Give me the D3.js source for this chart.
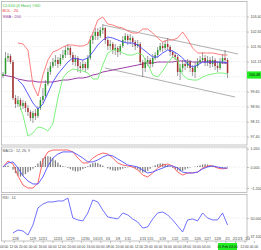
<!DOCTYPE html>
<html>
<head>
<meta charset="utf-8">
<script src="https://cdn.jsdelivr.net/npm/d3@7"></script>
<style>
  body { margin: 0; background: #fff; }
  text { font-family: "Liberation Sans", Arial, sans-serif; }
</style>
</head>
<body>
<div id="chart"></div>
<script>
// ---- candles (one per bar) ----
const candleOpen = [100.43, 100.53, 101.33, 101.43, 101.13, 99.33, 99.03, 99.23, 98.93, 99.08,
  98.83, 98.63, 98.33, 98.58, 98.43, 98.83, 99.23, 99.43, 100.03, 100.63,
  100.93, 101.13, 101.23, 101.03, 101.33, 101.48, 101.73, 101.83, 101.48, 101.13,
  101.33, 100.93, 100.83, 101.03, 100.83, 101.33, 102.23, 102.43, 102.63, 102.43,
  102.73, 102.83, 102.23, 101.93, 102.03, 101.73, 101.83, 101.63, 101.93, 102.23,
  102.43, 102.23, 102.33, 102.13, 101.93, 102.03, 101.13, 100.83, 101.13, 101.23,
  101.03, 101.33, 101.48, 101.73, 101.93, 101.83, 102.03, 101.88, 101.63, 101.48,
  101.38, 100.63, 100.83, 101.03, 100.93, 101.13, 100.83, 100.63, 100.93, 101.13,
  101.23, 101.33, 101.13, 101.23, 101.03, 101.23, 100.93, 100.83, 101.13, 101.33,
  101.23];
const candleHigh = [100.63, 101.63, 101.58, 101.53, 101.23, 99.48, 99.43, 99.33, 99.23, 99.18,
  98.98, 98.73, 98.68, 98.78, 98.93, 99.38, 99.83, 100.23, 100.83, 101.13,
  101.33, 101.48, 101.38, 101.53, 101.73, 101.93, 102.03, 101.93, 101.63, 101.48,
  101.43, 101.13, 101.23, 101.13, 101.48, 102.43, 102.63, 102.83, 102.83, 102.88,
  103.03, 102.88, 102.33, 102.23, 102.13, 102.03, 101.93, 102.03, 102.43, 102.58,
  102.53, 102.53, 102.43, 102.23, 102.23, 102.13, 101.23, 101.33, 101.43, 101.33,
  101.53, 101.63, 101.88, 102.08, 102.13, 102.23, 102.33, 101.98, 101.73, 101.63,
  101.48, 101.03, 101.23, 101.23, 101.28, 101.23, 100.98, 101.13, 101.33, 101.43,
  101.63, 101.48, 101.43, 101.38, 101.43, 101.33, 101.13, 101.33, 101.53, 101.73,
  101.33];
const candleLow = [100.33, 100.48, 101.13, 101.03, 99.23, 98.83, 98.88, 98.73, 98.78, 98.63,
  98.43, 98.18, 98.08, 98.23, 98.33, 98.73, 99.08, 99.33, 99.93, 100.48,
  100.83, 100.93, 100.83, 100.93, 101.23, 101.33, 101.48, 101.33, 100.98, 100.93,
  100.63, 100.58, 100.73, 100.63, 100.73, 101.23, 102.03, 102.23, 102.23, 102.33,
  102.53, 102.03, 101.73, 101.73, 101.53, 101.48, 101.38, 101.48, 101.83, 102.13,
  101.98, 102.03, 101.88, 101.73, 101.83, 100.98, 100.38, 100.63, 100.93, 100.83,
  100.88, 101.23, 101.33, 101.63, 101.63, 101.73, 101.73, 101.43, 101.33, 101.23,
  100.43, 100.23, 100.63, 100.73, 100.83, 100.63, 100.43, 100.33, 100.83, 101.03,
  101.13, 100.93, 100.93, 100.83, 100.88, 100.73, 100.63, 100.73, 101.03, 101.03,
  100.33];
const candleClose = [100.53, 101.33, 101.43, 101.13, 99.33, 99.03, 99.23, 98.93, 99.08, 98.83,
  98.63, 98.33, 98.58, 98.43, 98.83, 99.23, 99.43, 100.03, 100.63, 100.93,
  101.13, 101.23, 101.03, 101.33, 101.48, 101.73, 101.83, 101.48, 101.13, 101.33,
  100.93, 100.83, 101.03, 100.83, 101.33, 102.23, 102.43, 102.63, 102.43, 102.73,
  102.83, 102.23, 101.93, 102.03, 101.73, 101.83, 101.63, 101.93, 102.23, 102.43,
  102.23, 102.33, 102.13, 101.93, 102.03, 101.13, 100.83, 101.13, 101.23, 101.03,
  101.33, 101.48, 101.73, 101.93, 101.83, 102.03, 101.88, 101.63, 101.48, 101.38,
  100.63, 100.83, 101.03, 100.93, 101.13, 100.83, 100.63, 100.93, 101.13, 101.23,
  101.33, 101.13, 101.23, 101.03, 101.23, 100.93, 100.83, 101.13, 101.33, 101.23,
  100.58];

// ---- indicator lines, read every second bar ----
const lineIdx = [0, 2, 4, 6, 8, 10, 12, 14, 16, 18, 20, 22, 24, 26, 28, 30, 32, 34, 36, 38,
  40, 42, 44, 46, 48, 50, 52, 54, 56, 58, 60, 62, 64, 66, 68, 70, 72, 74, 76, 78,
  80, 82, 84, 86, 88, 90];
const bbUpper = [null, null, null, 102.08, 102.03, 101.73, 99.98, 99.43, 100.48, 101.23,
  101.63, 101.73, 101.88, 101.98, 101.98, 101.93, 101.93, 102.03, 102.58, 103.23,
  103.38, 103.03, 102.98, 102.88, 102.83, 102.68, 102.58, 102.58, 102.78, 102.78,
  102.58, 102.33, 102.13, 102.23, 102.23, 102.33, 102.63, 102.28, 101.83, 101.58,
  101.58, 101.58, 101.58, 101.53, 101.48, 101.48];
const bbMiddle = [null, null, null, 100.23, 99.98, 99.53, 99.08, 98.78, 99.03, 99.58,
  100.13, 100.53, 100.83, 101.13, 101.33, 101.28, 101.23, 101.33, 101.63, 101.98,
  102.23, 102.38, 102.33, 102.23, 102.13, 102.08, 102.08, 101.98, 101.78, 101.58,
  101.38, 101.38, 101.58, 101.73, 101.68, 101.53, 101.33, 101.03, 100.88, 100.98,
  101.13, 101.13, 101.13, 101.13, 101.13, 101.08];
const bbLower = [null, null, null, 99.23, 98.48, 97.43, 97.58, 97.88, 97.83, 97.68,
  98.03, 99.33, 100.33, 100.63, 100.78, 100.73, 100.68, 100.58, 100.28, 100.28,
  100.98, 101.58, 101.73, 101.73, 101.58, 101.48, 101.48, 101.58, 101.48, 101.03,
  100.48, 100.38, 100.68, 101.08, 101.38, 101.23, 100.48, 100.28, 100.23, 100.23,
  100.38, 100.48, 100.53, 100.58, 100.58, 100.53];
const sma200 = [100.48, 100.43, 100.38, 100.28, 100.23, 100.18, 100.18, 100.13, 100.13, 100.13,
  100.13, 100.18, 100.23, 100.23, 100.28, 100.33, 100.33, 100.38, 100.48, 100.53,
  100.63, 100.68, 100.73, 100.78, 100.83, 100.88, 100.93, 100.98, 101.03, 101.08,
  101.08, 101.13, 101.13, 101.13, 101.13, 101.18, 101.18, 101.18, 101.13, 101.13,
  101.13, 101.13, 101.13, 101.13, 101.08, 101.08];
const macdLine = [0, 0.34, 0.17, -0.51, -1.03, -1.20, -1.20, -0.91, 0.40, 0.86,
  0.97, 0.97, 0.97, 0.97, 0.86, 0.51, 0.23, 0.23, 0.51, 0.69,
  0.80, 0.74, 0.51, 0.23, 0.11, 0.06, 0, -0.17, -0.46, -0.57,
  -0.34, -0.06, 0.11, 0.17, 0.06, -0.29, -0.46, -0.34, -0.34, -0.29,
  -0.06, 0.06, 0.06, -0.06, -0.11, -0.06];
const signalLine = [0, 0.23, 0.29, -0.06, -0.51, -0.80, -0.97, -0.97, -0.57, 0.06,
  0.51, 0.74, 0.86, 0.86, 0.86, 0.69, 0.51, 0.29, 0.29, 0.40,
  0.57, 0.69, 0.63, 0.46, 0.29, 0.11, 0.06, 0, -0.17, -0.34,
  -0.29, -0.17, -0.06, 0.06, 0.06, -0.06, -0.29, -0.34, -0.34, -0.29,
  -0.11, 0, 0.06, 0, -0.06, -0.06];
const rsi14 = [null, null, 39.3, 41.4, 40.7, 37.8, 45.0, 57.2, 60.0, 61.5,
  61.5, 62.2, 62.2, 64.3, 50.0, 48.6, 47.9, 53.6, 62.9, 61.5,
  55.7, 50.7, 50.0, 49.3, 53.6, 52.2, 49.3, 47.1, 42.8, 43.6,
  49.3, 53.6, 54.3, 52.2, 48.6, 44.3, 40.0, 48.6, 49.3, 47.9,
  53.6, 50.0, 48.6, 48.6, 53.6, 45.0];
// histogram, one per bar
const macdHist = [0, 0.05, 0.08, 0, -0.15, -0.35, -0.5, -0.55, -0.5, -0.4,
  -0.3, -0.2, -0.1, 0.05, 0.2, 0.35, 0.5, 0.6, 0.62, 0.58,
  0.5, 0.38, 0.25, 0.12, 0.05, 0.02, -0.05, -0.12, -0.2, -0.25,
  -0.25, -0.2, -0.12, -0.05, 0.05, 0.15, 0.22, 0.25, 0.22, 0.15,
  0.08, 0, -0.08, -0.15, -0.2, -0.22, -0.2, -0.15, -0.1, -0.05,
  -0.02, 0, -0.03, -0.08, -0.15, -0.25, -0.32, -0.3, -0.22, -0.1,
  0.02, 0.1, 0.16, 0.2, 0.2, 0.16, 0.1, 0.03, -0.05, -0.12,
  -0.2, -0.25, -0.22, -0.15, -0.08, -0.03, 0, 0.02, 0.05, 0.1,
  0.14, 0.16, 0.14, 0.1, 0.06, 0.02, -0.02, -0.05, -0.05, -0.03,
  0.02];

// channel lines: [bar, price] end points
const channelUpper = [[40.1, 102.98], [94.2, 101.53]];
const channelLower = [[40.9, 100.83], [93.0, 99.38]];

// axes
const priceTicks = [97.40, 98.15, 98.90, 99.65, 100.40, 101.15, 101.90, 102.65, 103.40];
const macdTicks = [1.05, 0, -1.2];
const rsiTicks = [50, 37.1];
const lastPrice = 100.48;

const dateIdx = [5, 12, 16, 22, 27, 33, 37, 39, 42, 46, 50, 56, 59, 64, 69, 73, 78, 82, 86, 90, 93, 95, 98];
const dateLabels = ["12/8", "12/9", "12/21", "12/23", "12/29", "12/30", "1/4", "1/5", "1/6", "1/8",
  "1/11", "1/13", "1/15", "1/19", "1/22", "1/25", "1/26", "1/27", "1/28", "2/1", "2/2", "2/3", "2/4"];
const timeIdx = [0.4, 4.3, 8.1, 12, 15.9, 19.8, 23.6, 27.5, 31.3, 35.2, 39, 42.9, 46.8, 50.6,
  54.5, 58.3, 62.2, 66, 69.9, 73.7, 77.6, 81.4, 85.2, 89.1, 93, 96.8, 100.6];
const timeLabels = ["04:00", "12:00", "20:00", "00:00", "16:00", "00:00", "12:00", "20:00", "04:00",
  "16:00", "00:00", "08:00", "20:00", "04:00", "12:00", "20:00", "00:00", "16:00", "00:00", "08:00",
  "16:00", "04:00", "12:00", "20:00", "04:00", "12:00", "00:00"];
const cursorIdx = 90;
const cursorLabel = "01-Feb 04:00";

// ---- drawing ----
const W = 261, H = 250;
const left = 1.5, right = 247;
const mainP = { top: 1.5, bottom: 145 };
const macdP = { top: 147, bottom: 192.5 };
const rsiP = { top: 194.5, bottom: 241 };

const svg = d3.select("#chart").append("svg")
  .attr("width", W).attr("height", H);
svg.append("rect").attr("width", W).attr("height", H).attr("fill", "#fff");

const x = d3.scaleLinear().domain([0, 97]).range([3, 245]);
const y = d3.scaleLinear().domain([97.40, 103.40]).range([136.6, 16.6]);
const yM = d3.scaleLinear().domain([-1.2, 1.05]).range([188, 148.6]);
const yR = d3.scaleLinear().domain([37.1, 50]).range([236, 218]);

const defs = svg.append("defs");
function panel(p, id) {
  defs.append("clipPath").attr("id", id).append("rect")
    .attr("x", left).attr("y", p.top).attr("width", right - left).attr("height", p.bottom - p.top);
  svg.append("rect")
    .attr("x", left).attr("y", p.top).attr("width", right - left).attr("height", p.bottom - p.top)
    .attr("fill", "none").attr("stroke", "#a8a8a8").attr("stroke-width", 0.7);
  return svg.append("g").attr("clip-path", `url(#${id})`);
}
const gMain = panel(mainP, "clipMain");
const gMacd = panel(macdP, "clipMacd");
const gRsi = panel(rsiP, "clipRsi");

function hgrid(g, scale, ticks) {
  g.selectAll(null).data(ticks).join("line")
    .attr("x1", left).attr("x2", right)
    .attr("y1", d => scale(d)).attr("y2", d => scale(d))
    .attr("stroke", "#cfcfcf").attr("stroke-width", 0.5).attr("stroke-dasharray", "1,1.5");
}
hgrid(gMain, y, priceTicks);
hgrid(gMacd, yM, macdTicks);
hgrid(gRsi, yR, [50]);

function axisRight(scale, ticks, fmt) {
  const a = svg.append("g").attr("transform", `translate(${right},0)`)
    .call(d3.axisRight(scale).tickValues(ticks).tickSize(2).tickPadding(1.5).tickFormat(fmt));
  a.select(".domain").remove();
  a.selectAll("line").attr("stroke", "#888").attr("stroke-width", 0.5);
  a.selectAll("text").attr("font-size", 3.6).attr("fill", "#444");
}
// the tick hidden behind the price tag is left out
axisRight(y, priceTicks.filter(t => Math.abs(y(t) - y(lastPrice)) > 5), d => d.toFixed(2));
axisRight(yM, macdTicks, d3.format(".3f"));
axisRight(yR, rsiTicks, d3.format(".3f"));

// channel
[channelUpper, channelLower].forEach(c => {
  gMain.append("line")
    .attr("x1", x(c[0][0])).attr("y1", y(c[0][1]))
    .attr("x2", x(c[1][0])).attr("y2", y(c[1][1]))
    .attr("stroke", "#9a9a9a").attr("stroke-width", 0.8);
});

function drawLine(g, vals, scale, color, w) {
  const pts = lineIdx.map((d, i) => [d, vals[i]]);
  g.append("path").datum(pts)
    .attr("fill", "none").attr("stroke", color).attr("stroke-width", w)
    .attr("d", d3.line().defined(d => d[1] != null).x(d => x(d[0])).y(d => scale(d[1])));
}
drawLine(gMain, sma200, y, "#9b3fa5", 1);

// candles
const bars = d3.range(candleClose.length);
gMain.selectAll(".wick").data(bars).join("line")
  .attr("x1", i => x(i)).attr("x2", i => x(i))
  .attr("y1", i => y(candleHigh[i])).attr("y2", i => y(candleLow[i]))
  .attr("stroke", "#3a3a3a").attr("stroke-width", 0.5);
gMain.selectAll(".body").data(bars).join("rect")
  .attr("x", i => x(i) - 0.75).attr("width", 1.5)
  .attr("y", i => y(Math.max(candleOpen[i], candleClose[i])))
  .attr("height", i => Math.max(0.6, Math.abs(y(candleOpen[i]) - y(candleClose[i]))))
  .attr("fill", i => candleClose[i] >= candleOpen[i] ? "#2f9a2f" : "#a83030");

drawLine(gMain, bbUpper, y, "#ff7070", 0.9);
drawLine(gMain, bbMiddle, y, "#4a4aff", 0.9);
drawLine(gMain, bbLower, y, "#70ee70", 0.9);

// current price tag
svg.append("rect").attr("x", right).attr("y", y(lastPrice) - 3.6)
  .attr("width", 14).attr("height", 7.2).attr("fill", "#22ee22");
svg.append("text").attr("x", right + 2).attr("y", y(lastPrice) + 1.3)
  .attr("font-size", 3.6).attr("fill", "#111").text(lastPrice.toFixed(2));

// legend
const legend = [["CLG10 (4 Hour) #GD", "#33bb33"], ["BOL : 20", "#ee3333"], ["SMA : 200", "#9b3fa5"]];
legend.forEach((d, i) => {
  svg.append("text").attr("x", 2.5).attr("y", 6.5 + i * 5.6)
    .attr("font-size", 4).attr("fill", d[1]).text(d[0]);
});

// MACD
gMacd.selectAll(".hist").data(bars).join("rect")
  .attr("x", i => x(i) - 0.6).attr("width", 1.2)
  .attr("y", i => Math.min(yM(0), yM(macdHist[i])))
  .attr("height", i => Math.abs(yM(macdHist[i]) - yM(0)))
  .attr("fill", "#7a7a7a");
drawLine(gMacd, macdLine, yM, "#ff5555", 0.9);
drawLine(gMacd, signalLine, yM, "#5050ff", 0.9);
svg.append("text").attr("x", 2.5).attr("y", macdP.top + 4.5)
  .attr("font-size", 3.6).attr("fill", "#555").text("MACD : 12, 26, 9");

// RSI
drawLine(gRsi, rsi14, yR, "#4d4dff", 0.8);
svg.append("text").attr("x", 2.5).attr("y", rsiP.top + 4.5)
  .attr("font-size", 3.6).attr("fill", "#555").text("RSI : 14");

// date labels inside the lower panel
svg.selectAll(".date").data(dateIdx).join("text")
  .attr("x", d => x(d)).attr("y", rsiP.bottom - 1.5)
  .attr("text-anchor", "middle").attr("font-size", 3.4).attr("fill", "#444")
  .text((d, i) => dateLabels[i]);

// bottom time axis; labels under the cursor tag are covered
const shownTimes = timeIdx.map((d, i) => [d, timeLabels[i]])
  .filter(d => Math.abs(x(d[0]) - x(cursorIdx)) > 13);
const ax = svg.append("g").attr("transform", `translate(0,${rsiP.bottom})`)
  .call(d3.axisBottom(x).tickValues(timeIdx).tickSize(2).tickFormat(""));
ax.select(".domain").remove();
ax.selectAll("line").attr("stroke", "#888").attr("stroke-width", 0.5);
svg.selectAll(".time").data(shownTimes).join("text")
  .attr("x", d => x(d[0])).attr("y", 247.8)
  .attr("text-anchor", "middle").attr("font-size", 3.4).attr("fill", "#444")
  .text(d => d[1]);

// cursor time tag
svg.append("rect").attr("x", x(cursorIdx) - 9.5).attr("y", 243)
  .attr("width", 19).attr("height", 7).attr("fill", "#22ee22");
svg.append("text").attr("x", x(cursorIdx)).attr("y", 247.8)
  .attr("text-anchor", "middle").attr("font-size", 3.4).attr("fill", "#111").text(cursorLabel);
</script>
</body>
</html>
